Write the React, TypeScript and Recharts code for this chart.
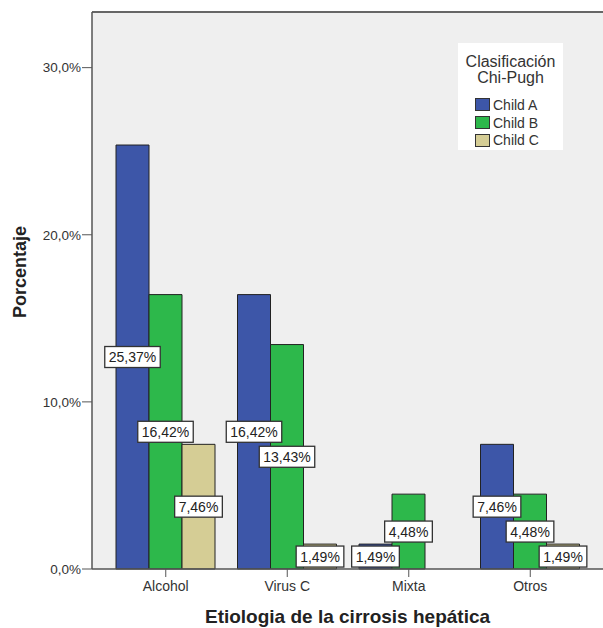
import React from "react";
import {
  BarChart,
  Bar,
  XAxis,
  YAxis,
  CartesianGrid,
  Legend,
  LabelList,
  ReferenceLine,
} from "recharts";

const categories = ["Alcohol", "Virus C", "Mixta", "Otros"];
const childA = [25.37, 16.42, 1.49, 7.46];
const childB = [16.42, 13.43, 4.48, 4.48];
const childC: (number | null)[] = [7.46, 1.49, null, 1.49];
const yTicks = [0, 10, 20, 30];
const yMax = 33.33;

const series = [
  { key: "childA", name: "Child A", color: "#3D56A8" },
  { key: "childB", name: "Child B", color: "#2DB84B" },
  { key: "childC", name: "Child C", color: "#D5CD95" },
];

const data = categories.map((cat, i) => ({
  cat,
  childA: childA[i],
  childB: childB[i],
  childC: childC[i],
}));

const FONT = '"Liberation Sans", Arial, sans-serif';

const fmtTick = (v: number) => `${v.toFixed(1).replace(".", ",")}%`;
const fmtValue = (v: number) => `${v.toFixed(2).replace(".", ",")}%`;

// rough Arial advance widths, enough to size the label boxes
const charW = (c: string) => (c === "," ? 0.278 : c === "%" ? 0.889 : 0.556);
const textWidth = (s: string, size: number) =>
  s.split("").reduce((acc, c) => acc + charW(c), 0) * size;

const ValueLabel = (props: any) => {
  const { x, y, width, height, value } = props;
  if (value === null || value === undefined) return null;
  const text = fmtValue(Number(value));
  const w = textWidth(text, 14) + 8;
  const h = 21;
  const cx = Number(x) + Number(width) / 2;
  const cy = Number(y) + Number(height) / 2;
  return (
    <g>
      <rect
        x={cx - w / 2}
        y={cy - h / 2}
        width={w}
        height={h}
        fill="#fff"
        stroke="#333"
        strokeWidth={1.3}
      />
      <text
        x={cx}
        y={cy}
        dy="0.36em"
        textAnchor="middle"
        fontSize={14}
        fontFamily={FONT}
        fill="#222"
      >
        {text}
      </text>
    </g>
  );
};

const LegendBox = () => (
  <div
    style={{
      background: "#fff",
      width: 105,
      height: 107,
      fontFamily: FONT,
      color: "#333",
      boxSizing: "border-box",
      paddingTop: 11,
    }}
  >
    <div style={{ textAlign: "center", fontSize: 16, lineHeight: "16px" }}>
      Clasificación
      <br />
      Chi-Pugh
    </div>
    <div style={{ marginTop: 10, paddingLeft: 17 }}>
      {series.map((s) => (
        <div
          key={s.key}
          style={{ display: "flex", alignItems: "center", height: 17.7, fontSize: 14 }}
        >
          <span
            style={{
              display: "inline-block",
              width: 15,
              height: 13,
              boxSizing: "border-box",
              background: s.color,
              border: "1px solid #333",
              marginRight: 3,
            }}
          />
          {s.name}
        </div>
      ))}
    </div>
  </div>
);

export default function App() {
  return (
    <div style={{ position: "relative", width: 603, height: 628, background: "#fff" }}>
      <style>{`body{margin:0}`}</style>
      <BarChart
        width={603}
        height={628}
        data={data}
        margin={{ top: 12, right: 0, bottom: 0, left: 0 }}
        barCategoryGap={11}
        barGap={0}
      >
        <CartesianGrid fill="#EFEFEF" horizontal={false} vertical={false} />
        <XAxis
          dataKey="cat"
          height={59}
          padding={{ left: 13, right: 12 }}
          axisLine={{ stroke: "#555", strokeWidth: 1.5 }}
          tickLine={{ stroke: "#555" }}
          tickSize={8}
          tickMargin={4}
          tick={{ fill: "#333", fontSize: 14, fontFamily: FONT }}
          label={{
            value: "Etiologia de la cirrosis hepática",
            position: "insideBottom",
            offset: 5,
            fill: "#222",
            fontSize: 19,
            fontWeight: "bold",
            fontFamily: FONT,
          }}
        />
        <YAxis
          width={92}
          domain={[0, yMax]}
          ticks={yTicks}
          tickFormatter={fmtTick}
          axisLine={{ stroke: "#555", strokeWidth: 1.5 }}
          tickLine={{ stroke: "#555" }}
          tickSize={10}
          tickMargin={1}
          tick={{ fill: "#333", fontSize: 13.5, fontFamily: FONT }}
        />
        <ReferenceLine y={yMax} stroke="#666" strokeWidth={2} />
        <Legend
          layout="vertical"
          align="center"
          verticalAlign="middle"
          wrapperStyle={{ left: 458, top: 43, width: 105 }}
          content={() => <LegendBox />}
        />
        {series.map((s) => (
          <Bar
            key={s.key}
            dataKey={s.key}
            name={s.name}
            fill={s.color}
            stroke="#222"
            strokeWidth={1}
            isAnimationActive={false}
          >
            <LabelList dataKey={s.key} content={<ValueLabel />} />
          </Bar>
        ))}
      </BarChart>
      <div
        style={{
          position: "absolute",
          left: 20,
          top: 272,
          transform: "translate(-50%, -50%) rotate(-90deg)",
          fontFamily: FONT,
          fontWeight: "bold",
          fontSize: 18,
          color: "#222",
          whiteSpace: "nowrap",
        }}
      >
        Porcentaje
      </div>
    </div>
  );
}
